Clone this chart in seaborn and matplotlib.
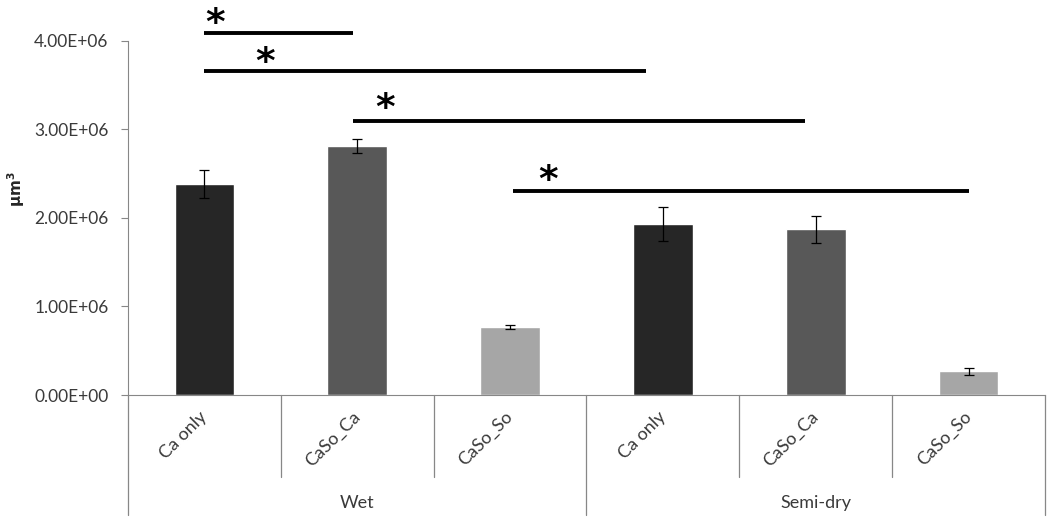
import pandas as pd
import numpy as np
import matplotlib.pyplot as plt
import seaborn as sns

# bar data (µm³)
groups = ['Wet', 'Wet', 'Wet', 'Semi-dry', 'Semi-dry', 'Semi-dry']
treatments = ['Ca only', 'CaSo_Ca', 'CaSo_So', 'Ca only', 'CaSo_Ca', 'CaSo_So']
means = [2.38e6, 2.81e6, 0.77e6, 1.93e6, 1.87e6, 0.27e6]
errors = [0.16e6, 0.08e6, 0.02e6, 0.19e6, 0.15e6, 0.04e6]
bar_colors = ['#262626', '#585858', '#a6a6a6', '#262626', '#585858', '#a6a6a6']

# significance bars: start / end (category units), height, star position
sig_x0 = [0.0, 0.0, 0.97, 2.02]
sig_x1 = [0.97, 2.89, 3.93, 5.0]
sig_y = [4.09e6, 3.66e6, 3.09e6, 2.30e6]
star_x = [0.07, 0.40, 1.18, 2.25]
star_y = [4.23e6, 3.79e6, 3.27e6, 2.46e6]

yticks = [0, 1e6, 2e6, 3e6, 4e6]
ytick_labels = ['0.00E+00', '1.00E+06', '2.00E+06', '3.00E+06', '4.00E+06']

df = pd.DataFrame({'group': groups, 'treatment': treatments, 'mean': means, 'err': errors})
df['key'] = df['group'] + ' ' + df['treatment']

sns.set_style('white')
plt.rcParams['font.family'] = ['Lato', 'DejaVu Sans']

fig = plt.figure(figsize=(10.5, 5.25), dpi=100)
ax = fig.add_axes([0.1219, 0.2476, 0.8733, 0.7524])

sns.barplot(data=df, x='key', y='mean', hue='key', palette=bar_colors,
            width=0.39, saturation=1, legend=False, ax=ax)
ax.errorbar(np.arange(len(df)), df['mean'], yerr=df['err'], fmt='none',
            ecolor='black', elinewidth=0.9, capsize=3.5, capthick=0.9)

ax.set_xlim(-0.5, 5.5)
ax.set_ylim(0, 4.46e6)

gray = '#878787'
for side in ['top', 'right']:
    ax.spines[side].set_visible(False)
ax.spines['left'].set_bounds(0, 4e6)
ax.spines['left'].set_color(gray)
ax.spines['bottom'].set_color(gray)

ax.set_yticks(yticks)
ax.set_yticklabels(ytick_labels)
ax.tick_params(axis='y', length=5, color=gray, direction='out', pad=9,
               labelsize=12.5, labelcolor='#3a3a3a', left=True)

ax.set_xticks(range(len(df)))
ax.set_xticklabels(treatments, rotation=45, ha='right', va='center',
                   rotation_mode='anchor')
ax.tick_params(axis='x', length=0, pad=14, labelsize=13, labelcolor='#3a3a3a')

ax.set_xlabel('')
ax.set_ylabel('µm$^\\mathbf{3}$', fontsize=11, fontweight='bold', family=['DejaVu Sans'])
ax.yaxis.set_label_coords(-0.110, 0.52)

# category separators below the axis
trans = ax.get_xaxis_transform()
for b in [0.5, 1.5, 3.5, 4.5]:
    ax.plot([b, b], [0, -0.2076], transform=trans, color=gray, lw=0.9, clip_on=False)
for b in [-0.5, 2.5, 5.5]:
    ax.plot([b, b], [0, -0.3038], transform=trans, color=gray, lw=0.9, clip_on=False)
for name, pos in zip(['Wet', 'Semi-dry'], [1, 4]):
    ax.text(pos, -0.273, name, transform=trans, ha='center', va='center',
            fontsize=13, color='#3a3a3a')

# significance markers
for x0, x1, y in zip(sig_x0, sig_x1, sig_y):
    ax.plot([x0, x1], [y, y], color='black', lw=2.8, clip_on=False, solid_capstyle='butt')
for x, y in zip(star_x, star_y):
    ax.text(x, y, '*', ha='center', va='center_baseline', fontsize=27,
            fontweight='bold', color='black', family=['DejaVu Sans'], clip_on=False)

fig.savefig('out.png', dpi=100)
